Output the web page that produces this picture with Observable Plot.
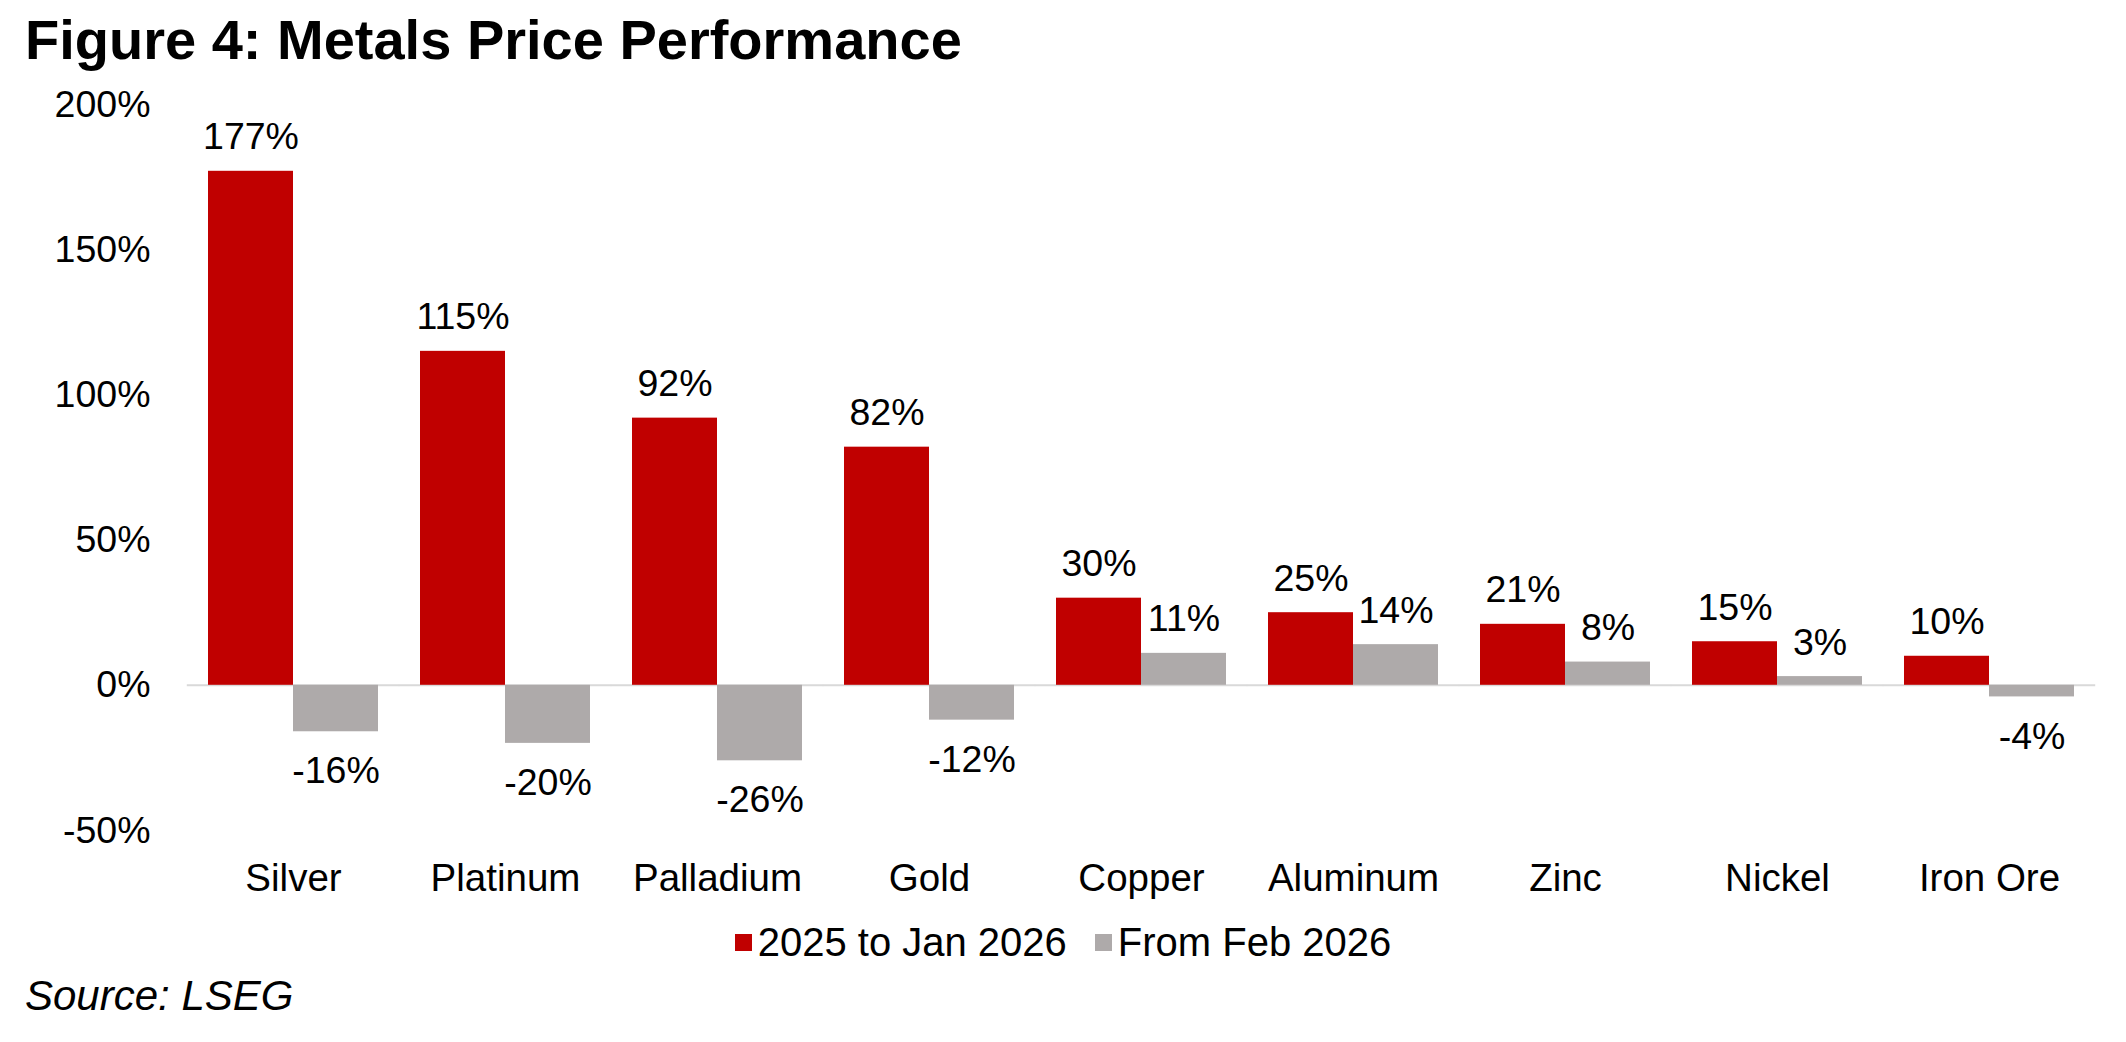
<!DOCTYPE html>
<html>
<head>
<meta charset="utf-8">
<script src="https://cdn.jsdelivr.net/npm/d3@7"></script>
<script src="https://cdn.jsdelivr.net/npm/@observablehq/plot@0.6"></script>
<style>
  body { margin: 0; background: #fff; color: #000; font-family: "Liberation Sans", Arial, Helvetica, sans-serif; }
  #wrap { position: relative; width: 2126px; height: 1042px; overflow: hidden; background: #fff; }
  #title { position: absolute; left: 25px; top: 12px; font-size: 56px; font-weight: bold; line-height: 56px; white-space: nowrap; }
  #chart { position: absolute; left: 0; top: 70px; }
  #legend { position: absolute; left: 0; top: 918px; width: 2126px; display: flex; justify-content: center; align-items: center; font-size: 40px; line-height: 48px; white-space: nowrap; }
  .item { display: flex; align-items: center; margin: 0 14px; }
  .sw { width: 17px; height: 17px; display: inline-block; margin-right: 6px; }
  #source { position: absolute; left: 25px; top: 972px; font-size: 42px; font-style: italic; line-height: 48px; white-space: nowrap; }
</style>
</head>
<body>
<div id="wrap">
  <div id="title"></div>
  <div id="chart"></div>
  <div id="legend"></div>
  <div id="source"></div>
</div>
<script>
// ---- data ----
const titleText = "Figure 4: Metals Price Performance";
const sourceText = "Source: LSEG";
const categories = ["Silver", "Platinum", "Palladium", "Gold", "Copper", "Aluminum", "Zinc", "Nickel", "Iron Ore"];
const seriesNames = ["2025 to Jan 2026", "From Feb 2026"];
const values2025toJan2026 = [177, 115, 92, 82, 30, 25, 21, 15, 10];
const valuesFromFeb2026 = [-16, -20, -26, -12, 11, 14, 8, 3, -4];
const seriesColors = ["#C00000", "#AEAAAA"];
const yTicks = [-50, 0, 50, 100, 150, 200];
const yDomain = [-50, 200];

// ---- table ----
const rows = [];
categories.forEach((c, i) => {
  rows.push({cat: c, series: seriesNames[0], value: values2025toJan2026[i]});
  rows.push({cat: c, series: seriesNames[1], value: valuesFromFeb2026[i]});
});

document.getElementById("title").textContent = titleText;
document.getElementById("source").textContent = sourceText;

const W = 2126, H = 830;
const mL = 186, mR = 30, mT = 34, mB = 70;
const padInner = 0.2, padOuter = 0.1;
const step = (W - mL - mR) / (categories.length - padInner + 2 * padOuter);
const gap = step * padInner / 2;
const fontFam = '"Liberation Sans", Arial, Helvetica, sans-serif';

const chart = Plot.plot({
  width: W,
  height: H,
  marginTop: mT,
  marginBottom: mB,
  marginLeft: mL,
  marginRight: mR,
  style: {fontFamily: fontFam, fontSize: "37px", color: "#000", background: "transparent", overflow: "visible"},
  fx: {domain: categories, paddingInner: padInner, paddingOuter: padOuter, label: null},
  x: {domain: seriesNames, padding: 0, axis: null},
  y: {domain: yDomain, label: null},
  color: {domain: seriesNames, range: seriesColors},
  marks: [
    Plot.ruleY([0], {stroke: "#D9D9D9", strokeWidth: 2, insetLeft: -gap, insetRight: -gap}),
    Plot.barY(rows, {fx: "cat", x: "series", y: "value", fill: "series"}),
    Plot.text(rows.filter(d => d.value >= 0), {fx: "cat", x: "series", y: "value", text: d => d.value + "%", lineAnchor: "bottom", dy: -22, fontSize: 37.5, fill: "#000"}),
    Plot.text(rows.filter(d => d.value < 0), {fx: "cat", x: "series", y: "value", text: d => d.value + "%", lineAnchor: "top", dy: 25, fontSize: 37.5, fill: "#000"}),
    Plot.axisY({ticks: yTicks, tickFormat: d => d + "%", tickSize: 0, tickPadding: 58, fontSize: 37.5, label: null}),
    Plot.axisFx({anchor: "bottom", tickSize: 0, tickPadding: 33, fontSize: 38.5, label: null})
  ]
});
document.getElementById("chart").appendChild(chart);

// ---- legend ----
const legend = document.getElementById("legend");
seriesNames.forEach((name, i) => {
  const item = document.createElement("span");
  item.className = "item";
  const sw = document.createElement("span");
  sw.className = "sw";
  sw.style.background = seriesColors[i];
  const label = document.createElement("span");
  label.textContent = name;
  item.appendChild(sw);
  item.appendChild(label);
  legend.appendChild(item);
});
</script>
</body>
</html>
